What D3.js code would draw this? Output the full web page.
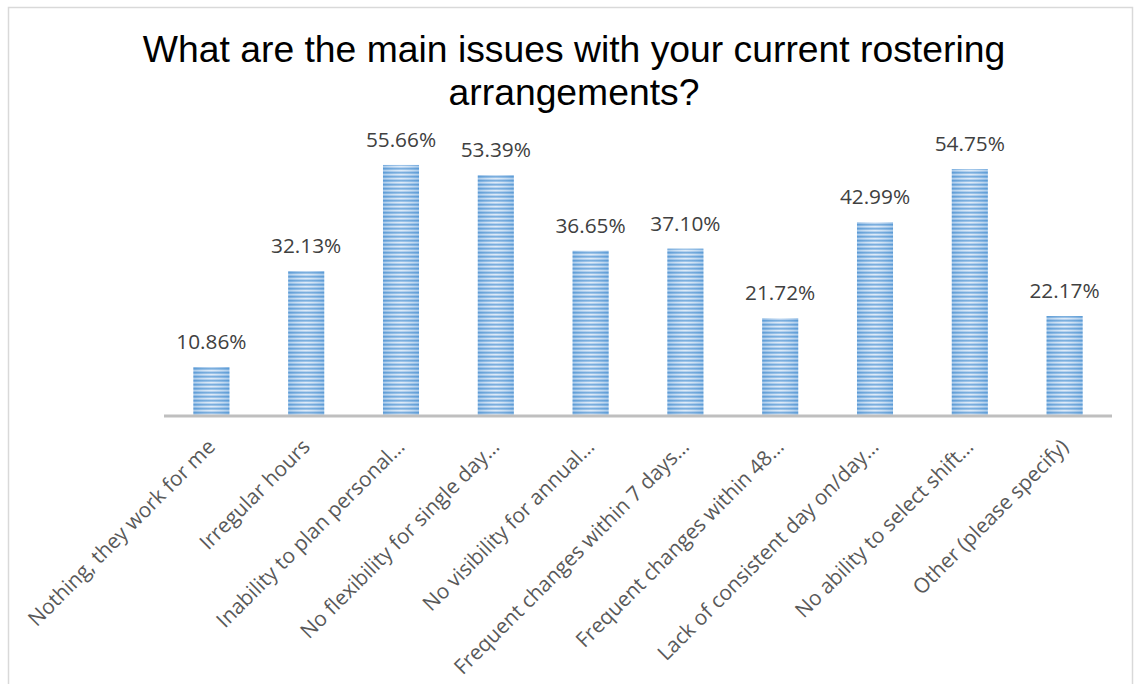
<!DOCTYPE html>
<html>
<head>
<meta charset="utf-8">
<script src="https://cdn.jsdelivr.net/npm/d3@7"></script>
<style>
  html, body { margin: 0; padding: 0; background: #fff; }
  svg { display: block; }
</style>
</head>
<body>
<svg id="chart" width="1135" height="684"></svg>
<script>
const titleLines = ["What are the main issues with your current rostering", "arrangements?"];
const categories = [
  "Nothing, they work for me",
  "Irregular hours",
  "Inability to plan personal…",
  "No flexibility for single day…",
  "No visibility for annual…",
  "Frequent changes within 7 days…",
  "Frequent changes within 48…",
  "Lack of consistent day on/day…",
  "No ability to select shift…",
  "Other (please specify)"
];
const values = [10.86, 32.13, 55.66, 53.39, 36.65, 37.10, 21.72, 42.99, 54.75, 22.17];
const valueLabels = ["10.86%", "32.13%", "55.66%", "53.39%", "36.65%", "37.10%", "21.72%", "42.99%", "54.75%", "22.17%"];

const svg = d3.select("#chart");

// frame
svg.append("rect")
  .attr("x", 8.5).attr("y", 7.5)
  .attr("width", 1124).attr("height", 700)
  .attr("fill", "#fff").attr("stroke", "#d9d9d9").attr("stroke-width", 1.5);

const defs = svg.append("defs");
const pat = defs.append("pattern")
  .attr("id", "stripes").attr("patternUnits", "userSpaceOnUse")
  .attr("width", 8).attr("height", 4);
const stripeCols = ["#5b9bd5", "#86b5e3", "#d6e6f6", "#a5c7eb"];
stripeCols.forEach((c, i) => {
  pat.append("rect").attr("x", 0).attr("y", i).attr("width", 8).attr("height", 1).attr("fill", c);
});
const grad = defs.append("linearGradient").attr("id", "shine")
  .attr("x1", "0%").attr("x2", "100%").attr("y1", "0%").attr("y2", "0%");
grad.append("stop").attr("offset", "0%").attr("stop-color", "#5b9bd5").attr("stop-opacity", 0.35);
grad.append("stop").attr("offset", "50%").attr("stop-color", "#ffffff").attr("stop-opacity", 0.2);
grad.append("stop").attr("offset", "100%").attr("stop-color", "#5b9bd5").attr("stop-opacity", 0.35);

const x = d3.scaleBand().domain(categories).range([164, 1112])
  .paddingInner(0.62).paddingOuter(0.31);
const y = d3.scaleLinear().domain([0, 60]).range([416, 145.4]);

// title
const title = svg.append("text")
  .attr("text-anchor", "middle")
  .attr("font-family", "Liberation Sans, Arial, sans-serif")
  .attr("font-size", 37.3)
  .attr("fill", "#000");
titleLines.forEach((t, i) => {
  title.append("tspan").attr("x", 574).attr("y", 62 + i * 43).text(t);
});

// bars
const g = svg.append("g");
g.selectAll("rect.bar").data(values).join("rect")
  .attr("class", "bar")
  .attr("x", (d, i) => x(categories[i]))
  .attr("y", d => y(d))
  .attr("width", x.bandwidth())
  .attr("height", d => y(0) - y(d))
  .attr("fill", "url(#stripes)");
g.selectAll("rect.shine").data(values).join("rect")
  .attr("class", "shine")
  .attr("x", (d, i) => x(categories[i]))
  .attr("y", d => y(d))
  .attr("width", x.bandwidth())
  .attr("height", d => y(0) - y(d))
  .attr("fill", "url(#shine)");

// axis line
const xAxis = d3.axisBottom(x).tickSize(0).tickFormat("");
const ax = svg.append("g").attr("transform", `translate(0,${y(0)})`).call(xAxis);
ax.select(".domain").attr("stroke", "#bfbfbf").attr("stroke-width", 3)
  .attr("d", "M164,0H1112");

// category labels
svg.append("g").selectAll("text").data(categories).join("text")
  .attr("transform", d => `translate(${x(d) + x.bandwidth() / 2 + 5},${y(0) + 32}) rotate(-45)`)
  .attr("text-anchor", "end")
  .attr("font-family", "Open Sans, sans-serif")
  .attr("font-size", 20.8)
  .attr("fill", "#595959")
  .text(d => d);

// value labels
svg.append("g").selectAll("text").data(values).join("text")
  .attr("x", (d, i) => x(categories[i]) + x.bandwidth() / 2)
  .attr("y", d => y(d) - 18)
  .attr("text-anchor", "middle")
  .attr("font-family", "Open Sans, sans-serif")
  .attr("font-size", 20.8)
  .attr("fill", "#404040")
  .text((d, i) => valueLabels[i]);
</script>
</body>
</html>
